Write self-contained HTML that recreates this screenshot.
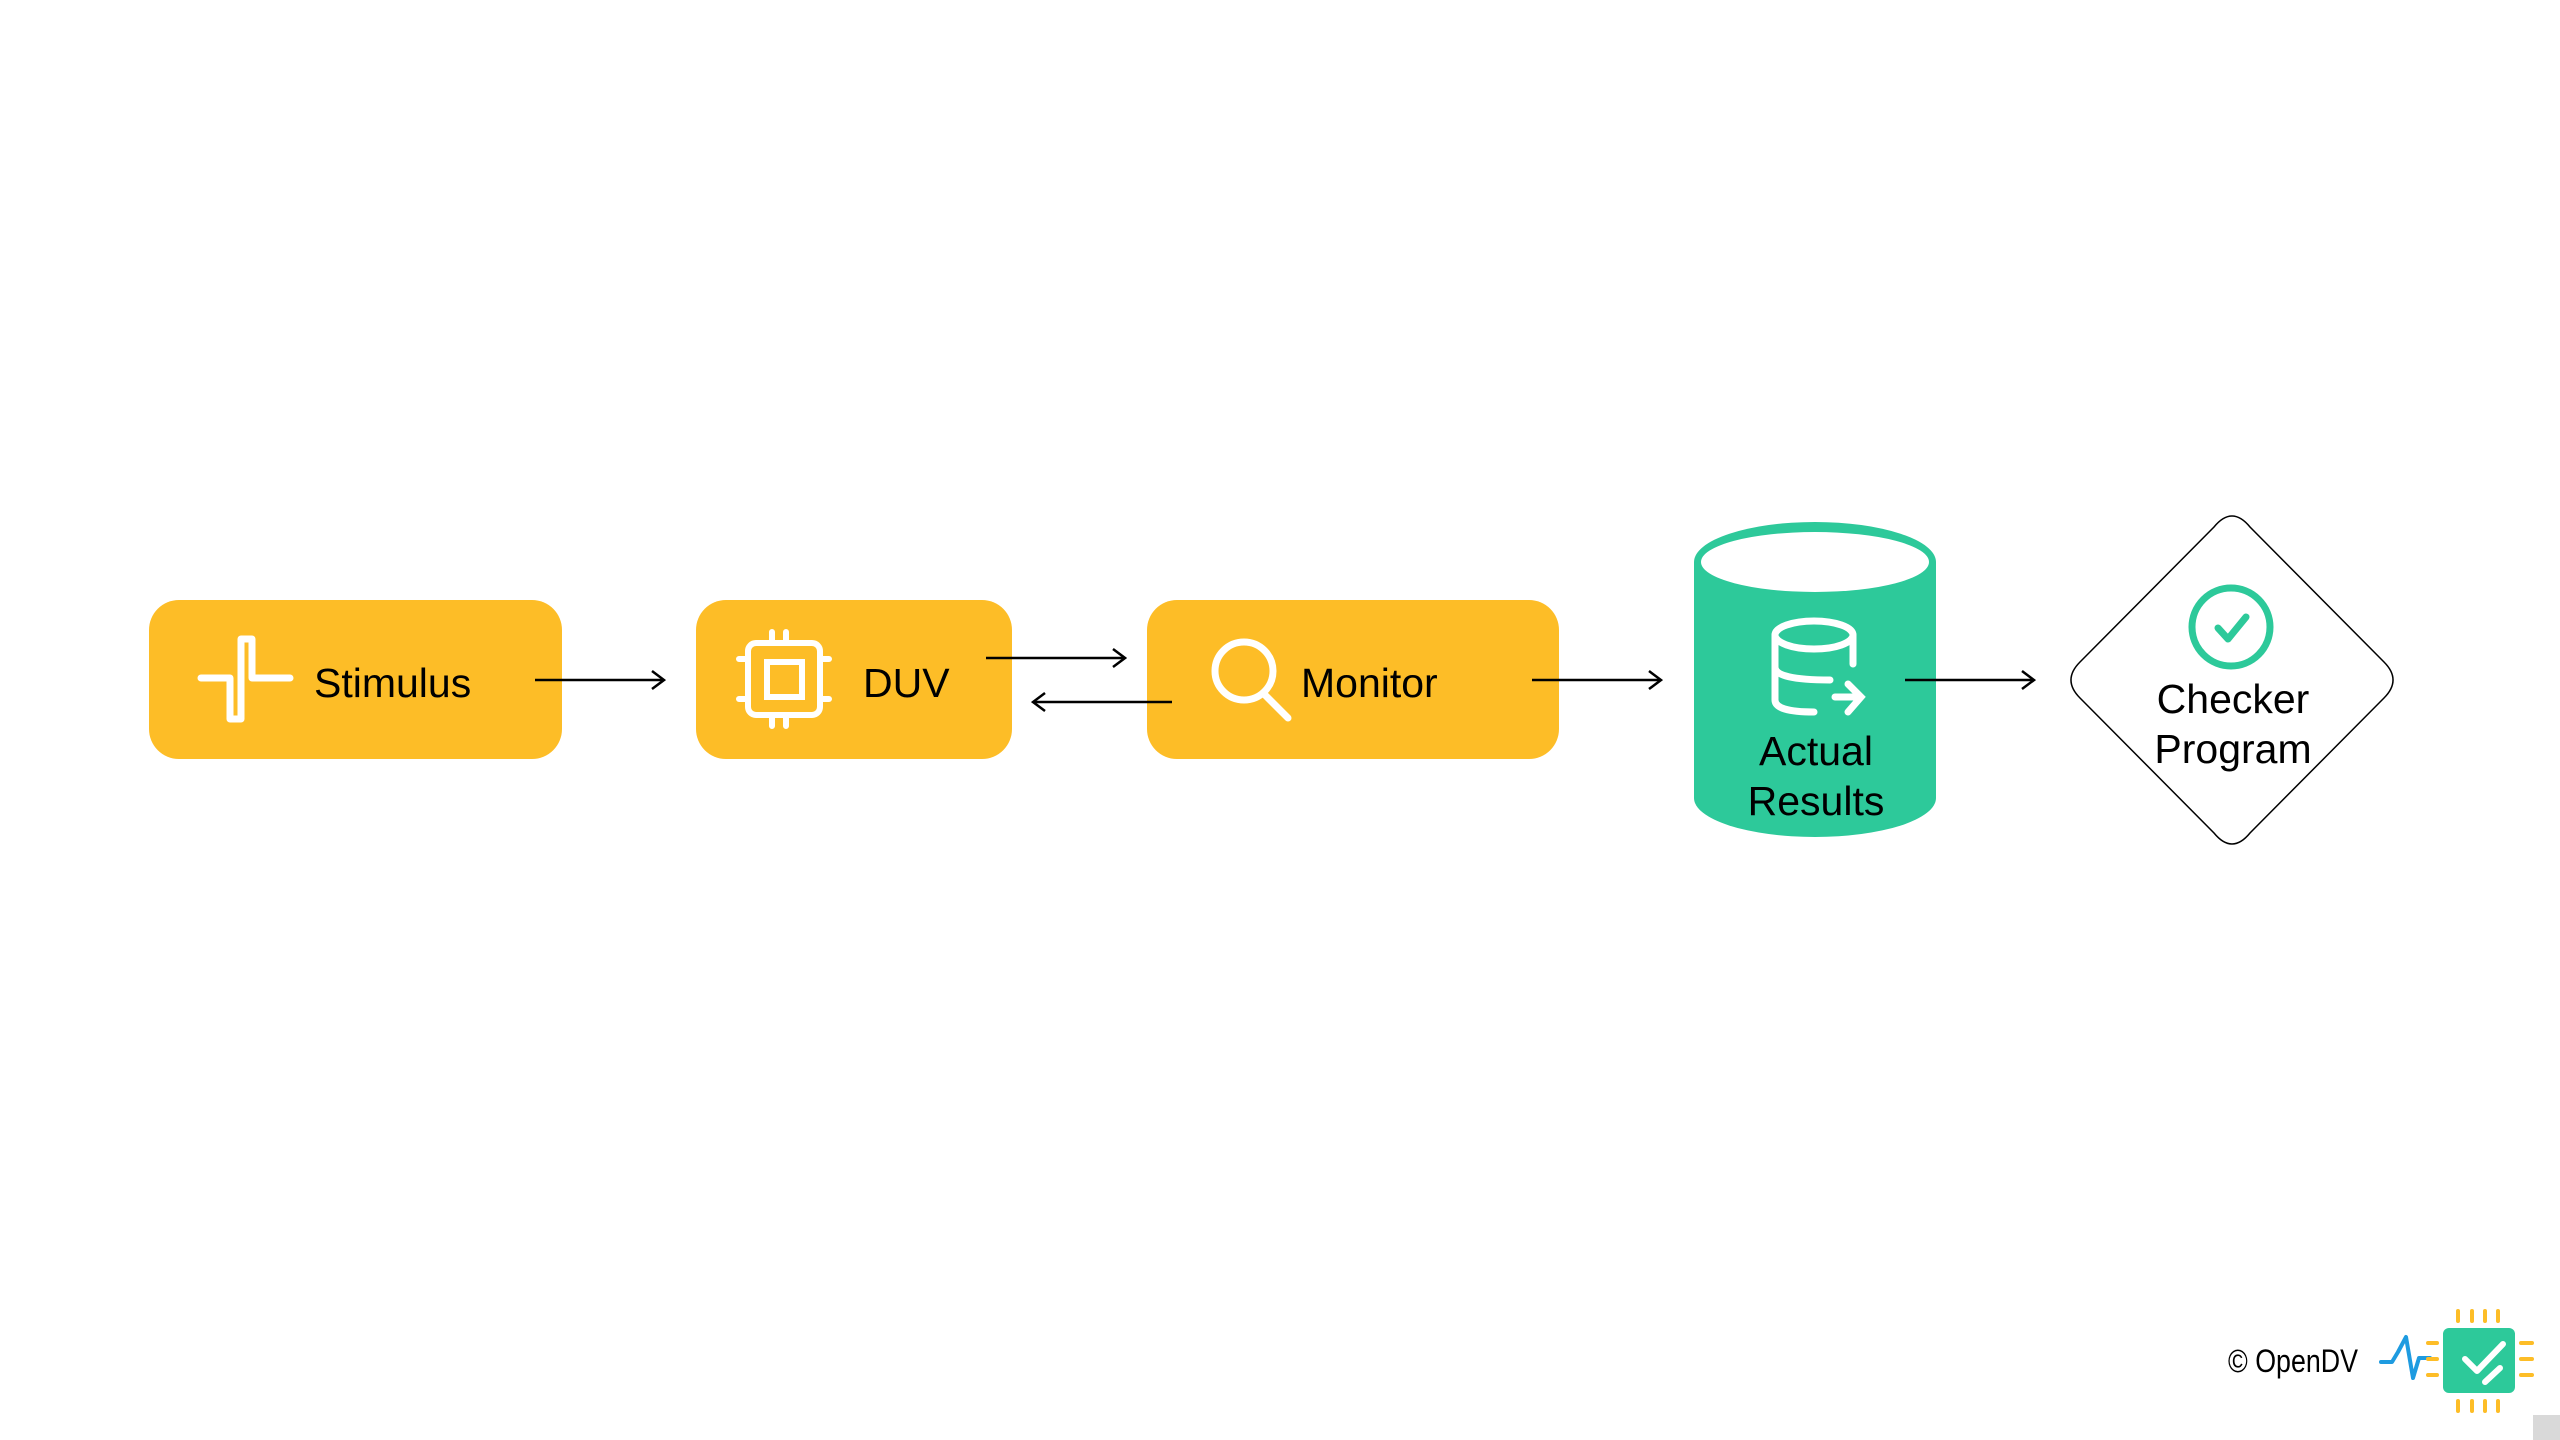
<!DOCTYPE html>
<html><head><meta charset="utf-8"><style>
html,body{margin:0;padding:0;background:#fff;}
svg{display:block;}
text{font-family:"Liberation Sans",sans-serif;fill:#000;}
</style></head><body>
<svg width="2560" height="1440" viewBox="0 0 2560 1440" xmlns="http://www.w3.org/2000/svg">
<defs>
<marker id="ah" markerWidth="16" markerHeight="20" refX="14" refY="10" orient="auto" markerUnits="userSpaceOnUse">
<path d="M2,1 L14,10 L2,19" fill="none" stroke="#000" stroke-width="2.5"/>
</marker>
</defs>
<rect x="149" y="600" width="413" height="159" rx="30" fill="#FDBD27"/>
<rect x="696" y="600" width="316" height="159" rx="30" fill="#FDBD27"/>
<rect x="1147" y="600" width="412" height="159" rx="30" fill="#FDBD27"/>
<path d="M201 678 H230 V719 H241 V639 H252 V678 H290" fill="none" stroke="#fff" stroke-width="7" stroke-linejoin="round" stroke-linecap="round"/>
<text x="314" y="697" font-size="41">Stimulus</text>
<g fill="none" stroke="#fff" stroke-width="6" stroke-linecap="round">
<rect x="748" y="643" width="72" height="72" rx="8"/>
<rect x="767" y="662" width="35" height="35"/>
<path d="M772 632V641 M786 632V641 M772 717V726 M786 717V726 M739 659H746 M739 699H746 M822 659H829 M822 699H829"/>
</g>
<text x="863" y="697" font-size="41">DUV</text>
<circle cx="1244" cy="671" r="29" fill="none" stroke="#fff" stroke-width="7"/>
<line x1="1264" y1="694" x2="1288" y2="718" stroke="#fff" stroke-width="7" stroke-linecap="round"/>
<text x="1301" y="697" font-size="41">Monitor</text>
<g stroke="#000" stroke-width="2.5" marker-end="url(#ah)">
<line x1="535" y1="680" x2="664" y2="680"/>
<line x1="986" y1="658" x2="1125" y2="658"/>
<line x1="1172" y1="702" x2="1033" y2="702"/>
<line x1="1532" y1="680" x2="1661" y2="680"/>
</g>
<path d="M1694 562 A121 40 0 0 1 1936 562 V798 A121 39 0 0 1 1694 798 Z" fill="#2DC99A"/>
<ellipse cx="1815" cy="562" rx="114" ry="30" fill="#fff"/>
<g fill="none" stroke="#fff" stroke-width="7" stroke-linecap="round">
<ellipse cx="1814" cy="635" rx="39" ry="14"/>
<path d="M1775 635 V700 Q1775 712 1814 712"/>
<path d="M1853 635 V664"/>
<path d="M1775 667 Q1775 680 1830 680"/>
<path d="M1835 697 H1860 M1848 684 L1861 697 L1848 712"/>
</g>
<text x="1816" y="765" font-size="41" text-anchor="middle">Actual</text>
<text x="1816" y="815" font-size="41" text-anchor="middle">Results</text>
<line x1="1905" y1="680" x2="2034" y2="680" stroke="#000" stroke-width="2.5" marker-end="url(#ah)"/>
<path d="M2214 527 Q2232 505 2250 527 L2384 662 Q2402 680 2384 698 L2250 833 Q2232 855 2214 833 L2080 698 Q2062 680 2080 662 Z" fill="#fff" stroke="#000" stroke-width="1.5"/>
<circle cx="2231" cy="627" r="39" fill="none" stroke="#2DC99A" stroke-width="7"/>
<path d="M2218 628 L2228 639 L2246 617" fill="none" stroke="#2DC99A" stroke-width="7" stroke-linecap="round" stroke-linejoin="round"/>
<text x="2233" y="713" font-size="41" text-anchor="middle">Checker</text>
<text x="2233" y="763" font-size="41" text-anchor="middle">Program</text>
<text x="2228" y="1372" font-size="32" textLength="130" lengthAdjust="spacingAndGlyphs">© OpenDV</text>
<path d="M2381 1362 H2392 L2398 1352 L2406 1337 L2413 1378 L2419 1358 L2423 1358 H2430" fill="none" stroke="#1E9BE0" stroke-width="4" stroke-linecap="round" stroke-linejoin="round"/>
<g stroke="#FDBD27" stroke-width="4" stroke-linecap="round">
<path d="M2458 1311V1321 M2472 1311V1321 M2485 1311V1321 M2498 1311V1321 M2458 1401V1411 M2472 1401V1411 M2485 1401V1411 M2498 1401V1411"/>
<path d="M2428 1343H2437 M2428 1359H2437 M2428 1375H2437 M2521 1343H2532 M2521 1359H2532 M2521 1375H2532"/>
</g>
<rect x="2443" y="1328" width="72" height="65" rx="6" fill="#2DC99A"/>
<path d="M2465 1359 L2477 1371 L2503 1344 M2485 1382 L2500 1368" fill="none" stroke="#fff" stroke-width="6" stroke-linecap="round" stroke-linejoin="round"/>
<rect x="2533" y="1415" width="27" height="25" fill="#d9d9d9"/>
</svg>
</body></html>
